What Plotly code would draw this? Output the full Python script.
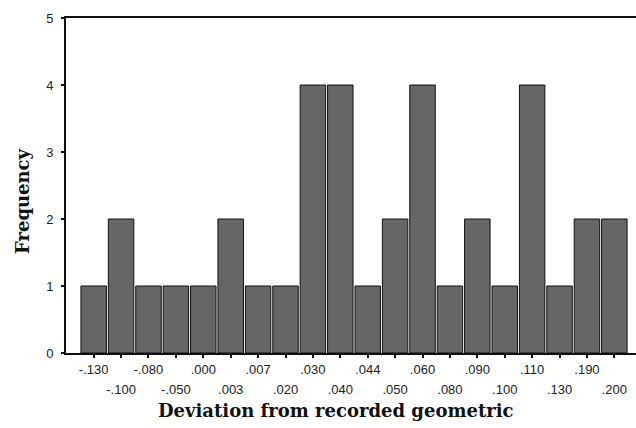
import plotly.graph_objects as go

labels = ["-.130", "-.100", "-.080", "-.050", ".000", ".003", ".007", ".020", ".030", ".040",
          ".044", ".050", ".060", ".080", ".090", ".100", ".110", ".130", ".190", ".200"]
freq = [1, 2, 1, 1, 1, 2, 1, 1, 4, 4, 1, 2, 4, 1, 2, 1, 4, 1, 2, 2]
y_ticks = [0, 1, 2, 3, 4, 5]

idx = list(range(len(labels)))
odd_idx = [i for i in idx if i % 2 == 1]

W, H = 636, 428
L, R, T, B = 66, 0, 18, 75
xr = [-1.01, 19.79]

fig = go.Figure()
fig.add_trace(go.Bar(x=idx, y=freq, marker=dict(color="#666666", line=dict(color="#111111", width=1)),
                     hoverinfo="skip", showlegend=False))
fig.add_trace(go.Scatter(x=odd_idx, y=[0] * len(odd_idx), xaxis="x2", mode="markers",
                         marker=dict(opacity=0), hoverinfo="skip", showlegend=False))

tickfont = dict(family="Liberation Sans, Arial", size=13, color="#222222")
fig.update_layout(
    width=W, height=H, margin=dict(l=L, r=R, t=T, b=B, autoexpand=False),
    paper_bgcolor="white", plot_bgcolor="white", bargap=0.07,
    xaxis=dict(range=xr, tickmode="array", tickvals=idx, automargin=False,
               ticktext=[labels[i] if i % 2 == 0 else "" for i in idx],
               showline=True, linecolor="#111111", linewidth=2, mirror=True,
               ticks="outside", ticklen=3, tickwidth=2, tickcolor="#111111",
               showgrid=False, zeroline=False, tickfont=tickfont),
    xaxis2=dict(range=xr, overlaying="x", side="bottom", anchor="y", tickmode="array",
                tickvals=odd_idx, ticktext=[labels[i] for i in odd_idx], automargin=False,
                ticks="", showline=False, showgrid=False, zeroline=False,
                ticklabelstandoff=27, tickfont=tickfont),
    yaxis=dict(range=[0, 5], tickmode="array", tickvals=y_ticks, ticktext=[str(v) for v in y_ticks],
               showline=True, linecolor="#111111", linewidth=2, mirror=False, automargin=False,
               ticks="outside", ticklen=3, tickwidth=2, tickcolor="#111111", ticklabelstandoff=5,
               showgrid=False, zeroline=False, tickfont=dict(family="Liberation Sans, Arial", size=13, color="#222222")),
)

titlefont = dict(family="DejaVu Serif", size=18, color="#111111")
fig.add_annotation(text="<b>Frequency</b>", xref="paper", yref="paper",
                   x=(22 - L) / (W - L - R), y=(H - B - 201) / (H - T - B),
                   textangle=-90, showarrow=False, font=titlefont, xanchor="center", yanchor="middle")
fig.add_annotation(text="<b>Deviation from recorded geometric</b>", xref="paper", yref="paper",
                   x=(336 - L) / (W - L - R), y=(H - B - 410) / (H - T - B),
                   showarrow=False, font=titlefont, xanchor="center", yanchor="middle")

fig.write_html("out.html", config={"displayModeBar": False},
               post_script="document.body.style.margin='0';document.body.style.overflow='hidden';")
